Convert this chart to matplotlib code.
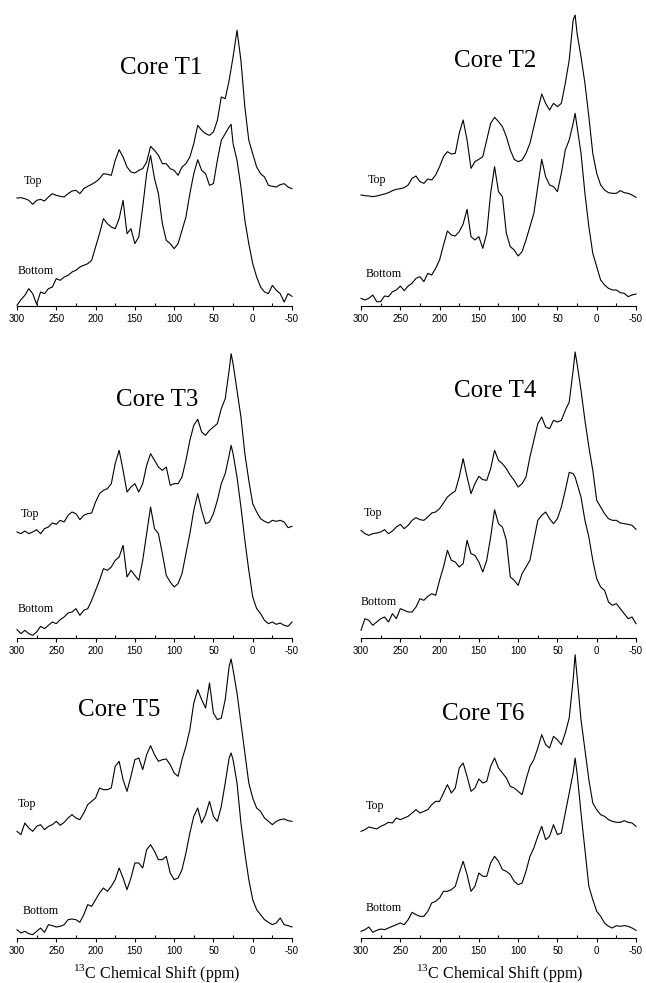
import numpy as np
import matplotlib
matplotlib.use("Agg")
import matplotlib.pyplot as plt

plt.rcParams['mathtext.fontset'] = 'custom'
plt.rcParams['mathtext.rm'] = 'Liberation Serif'
plt.rcParams['axes.unicode_minus'] = False

# chemical shift grid (ppm), with one extra point near the alkyl peak
shift = np.concatenate([np.arange(300, 25, -5), [27.5], np.arange(25, -55, -5)])

# intensities (arbitrary units), top traces relative to their own baseline
t1_top = [4, 5, 2, -3, -15, -3, 0, -5, 7, 17, 12, 9, 7, 17, 25, 27, 17, 32, 39, 45,
          52, 62, 77, 75, 72, 117, 149, 127, 97, 82, 79, 87, 92, 112, 159, 147, 132, 107, 107, 92,
          87, 72, 97, 107, 127, 167, 222, 207, 197, 192, 202, 237, 307, 302, 357, 392,
          427, 507, 417, 277, 177, 137, 97, 77, 67, 42, 39, 37, 44, 47, 37, 32]
t1_bottom = [2, 19, 32, 52, 37, 5, 42, 37, 52, 57, 82, 77, 87, 92, 102, 107, 117, 122, 127, 137,
             177, 217, 262, 247, 237, 232, 262, 317, 217, 232, 187, 207, 297, 397, 452, 382, 337, 247, 197, 187,
             172, 187, 227, 267, 337, 397, 439, 407, 397, 362, 367, 437, 497, 517, 537, 545,
             487, 437, 357, 257, 187, 127, 87, 57, 42, 37, 62, 47, 37, 12, 37, 29]

t2_top = [3, 1, 0, -2, 0, 3, 6, 10, 16, 20, 22, 25, 33, 53, 60, 43, 38, 51, 48, 63,
          88, 118, 133, 126, 128, 188, 228, 168, 83, 103, 110, 118, 168, 218, 236, 223, 208, 178, 138, 110,
          103, 108, 128, 158, 208, 258, 306, 278, 258, 278, 268, 278, 338, 408, 528, 543,
          488, 418, 338, 238, 128, 68, 33, 18, 10, 8, 8, 16, 10, 8, 3, -4]
t2_bottom = [23, 18, 23, 33, 13, 13, 30, 28, 43, 48, 60, 46, 60, 68, 83, 88, 73, 98, 93, 113,
             138, 183, 225, 213, 210, 223, 246, 290, 208, 198, 208, 173, 218, 338, 418, 343, 328, 218, 178, 168,
             150, 163, 198, 238, 278, 358, 440, 388, 363, 358, 343, 398, 468, 498, 548, 578,
             538, 458, 338, 238, 158, 118, 78, 63, 53, 48, 48, 40, 38, 28, 33, 36]

t3_top = [3, -2, 6, -2, 3, 10, -2, 13, 18, 30, 26, 38, 33, 53, 63, 58, 40, 53, 58, 60,
          93, 118, 128, 133, 148, 208, 248, 188, 123, 138, 148, 123, 148, 203, 238, 218, 198, 188, 198, 143,
          148, 148, 168, 218, 278, 323, 341, 303, 293, 308, 318, 328, 373, 403, 488, 538,
          508, 428, 348, 238, 158, 88, 63, 43, 35, 30, 38, 35, 38, 33, 16, 20]
t3_bottom = [25, 13, 23, 13, 8, 18, 35, 28, 38, 48, 43, 55, 63, 75, 78, 88, 68, 83, 88, 113,
             143, 173, 208, 203, 213, 233, 243, 278, 183, 203, 188, 173, 233, 313, 393, 328, 313, 253, 188, 168,
             153, 163, 193, 253, 313, 383, 433, 383, 343, 348, 373, 413, 463, 493, 548, 578,
             553, 483, 393, 293, 203, 123, 88, 73, 53, 43, 48, 41, 45, 38, 35, 48]

t4_top = [3, -7, -12, -7, -5, -2, 5, -7, 1, 13, 21, 8, 18, 33, 41, 35, 33, 43, 55, 58,
          68, 85, 103, 113, 121, 163, 218, 163, 113, 143, 165, 155, 153, 188, 243, 213, 203, 188, 168, 153,
          133, 143, 163, 223, 273, 323, 343, 313, 308, 333, 328, 333, 363, 388, 483, 538,
          503, 423, 333, 253, 183, 93, 73, 53, 38, 33, 33, 25, 23, 21, 18, 6]
t4_bottom = [23, 58, 53, 38, 48, 58, 63, 48, 73, 58, 88, 83, 78, 78, 93, 118, 113, 125, 133, 128,
             173, 213, 263, 233, 228, 213, 223, 293, 253, 248, 228, 198, 233, 303, 385, 343, 333, 293, 183, 173,
             158, 193, 213, 233, 293, 353, 368, 378, 358, 343, 358, 393, 443, 497, 493, 483,
             463, 423, 353, 303, 233, 178, 153, 143, 108, 98, 103, 88, 73, 58, 63, 43]

t5_top = [0, -10, 25, 10, 0, 15, 20, 5, 15, 20, 30, 18, 27, 40, 50, 40, 35, 55, 80, 90,
          100, 130, 125, 125, 130, 195, 210, 155, 120, 165, 215, 220, 185, 230, 257, 230, 210, 215, 217, 200,
          175, 165, 215, 255, 305, 385, 425, 395, 370, 445, 355, 335, 340, 395, 495, 517,
          485, 415, 325, 235, 145, 100, 70, 60, 40, 30, 20, 30, 35, 37, 32, 30]
t5_bottom = [25, 15, 20, 13, 10, 20, 30, 17, 40, 37, 33, 35, 40, 55, 57, 55, 47, 70, 100, 95,
             115, 135, 150, 140, 155, 175, 210, 180, 145, 180, 225, 225, 210, 265, 280, 260, 235, 235, 245, 195,
             175, 180, 205, 255, 315, 365, 390, 345, 370, 410, 365, 350, 395, 465, 540, 555,
             535, 465, 345, 255, 175, 115, 85, 70, 55, 47, 40, 45, 60, 40, 37, 33]

t6_top = [0, 5, 13, 10, 7, 15, 20, 27, 25, 40, 35, 40, 45, 55, 65, 55, 60, 65, 80, 90,
          90, 115, 140, 115, 130, 190, 205, 165, 120, 130, 157, 145, 150, 195, 220, 190, 175, 160, 135, 130,
          120, 110, 155, 195, 215, 250, 290, 260, 250, 285, 275, 260, 295, 340, 455, 530,
          465, 335, 245, 155, 85, 65, 50, 45, 35, 30, 27, 27, 32, 27, 25, 15]
t6_bottom = [20, 25, 33, 17, 23, 27, 25, 30, 35, 40, 45, 40, 55, 77, 70, 65, 65, 80, 105, 110,
             120, 140, 140, 145, 155, 195, 230, 190, 140, 155, 195, 185, 185, 225, 245, 230, 205, 200, 190, 170,
             160, 165, 200, 245, 270, 305, 335, 295, 305, 340, 310, 315, 375, 435, 495, 540,
             495, 375, 265, 155, 115, 80, 65, 45, 35, 30, 37, 35, 37, 35, 30, 23]

cores = ["Core T1", "Core T2", "Core T3", "Core T4", "Core T5", "Core T6"]
tops = [t1_top, t2_top, t3_top, t4_top, t5_top, t6_top]
bottoms = [t1_bottom, t2_bottom, t3_bottom, t4_bottom, t5_bottom, t6_bottom]
top_offset = [320, 330, 315, 320, 320, 320]

W, H = 646, 983
fig = plt.figure(figsize=(W / 100, H / 100), dpi=100)


def px(x, y):
    return x / W, 1 - y / H


col_x = [17, 361]
row_y = [306, 638, 938]
title_pos = [(161, 68), (495, 61), (157, 400), (495, 391), (119, 710), (483, 714)]
top_lbl = [(33, 181), (377, 180), (30, 514), (373, 513), (27, 804), (375, 806)]
bot_lbl = [(36, 271), (384, 274), (36, 609), (379, 602), (41, 911), (384, 908)]

serif = 'Liberation Serif'

for i in range(6):
    r, c = divmod(i, 2)
    x0, yb = col_x[c], row_y[r]
    ax = fig.add_axes([x0 / W, 1 - yb / H, 275 / W, 300 / H])
    ax.patch.set_alpha(0)
    ax.plot(shift, bottoms[i], color='black', lw=0.8, clip_on=False)
    ax.plot(shift, np.array(tops[i]) + top_offset[i], color='black', lw=0.8, clip_on=False)
    ax.set_xlim(300, -50)
    ax.set_ylim(0, 900)
    for s in ['left', 'right', 'top']:
        ax.spines[s].set_visible(False)
    ax.spines['bottom'].set_linewidth(0.8)
    ax.set_yticks([])
    ax.set_xticks(np.arange(300, -51, -50))
    ax.set_xticklabels([str(v) for v in range(300, -51, -50)], family='Liberation Sans')
    ax.set_xticks(np.arange(275, -50, -50), minor=True)
    ax.tick_params(which='major', direction='out', length=3, width=0.8, labelsize=7, pad=3)
    ax.tick_params(which='minor', direction='in', length=2.5, width=0.8)

    fig.text(*px(*title_pos[i]), cores[i], ha='center', va='center', fontsize=18, family=serif)
    fig.text(*px(*top_lbl[i]), 'Top', ha='center', va='center', fontsize=8.6, family=serif)
    fig.text(*px(*bot_lbl[i]), 'Bottom', ha='center', va='center', fontsize=8.6, family=serif)

for xc in [157, 500]:
    fig.text(*px(xc, 973), r'$^{\mathrm{13}}$C Chemical Shift (ppm)', ha='center', va='center',
             fontsize=11.5, family=serif)

fig.savefig('out.png', dpi=100)
